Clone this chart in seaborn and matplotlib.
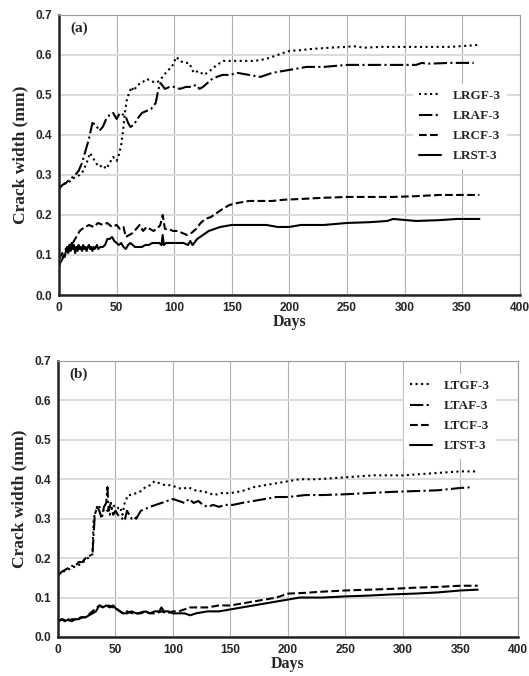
import numpy as np
import matplotlib
matplotlib.use("Agg")
import matplotlib.pyplot as plt
import seaborn as sns

# panel (a)
lrgf_d = [0, 3, 6, 10, 14, 18, 21, 24, 27, 29, 32, 35, 38, 41, 44, 47, 50, 52, 54, 56, 57, 59, 61, 63, 65, 68, 72, 76, 80, 84, 87, 90, 94, 98, 102, 105, 109, 113, 117, 121, 126, 131, 137, 143, 150, 160, 170, 180, 190, 200, 210, 220, 235, 250, 255, 265, 280, 300, 320, 340, 365]
lrgf_v = [0.27, 0.275, 0.28, 0.285, 0.295, 0.30, 0.31, 0.33, 0.355, 0.345, 0.33, 0.32, 0.325, 0.315, 0.33, 0.345, 0.335, 0.35, 0.375, 0.42, 0.45, 0.49, 0.505, 0.52, 0.51, 0.525, 0.53, 0.54, 0.535, 0.53, 0.535, 0.545, 0.56, 0.57, 0.595, 0.585, 0.58, 0.58, 0.555, 0.56, 0.55, 0.56, 0.575, 0.585, 0.585, 0.585, 0.585, 0.59, 0.60, 0.61, 0.612, 0.615, 0.618, 0.62, 0.622, 0.618, 0.62, 0.62, 0.62, 0.62, 0.625]
lraf_d = [0, 3, 6, 10, 14, 17, 20, 23, 26, 29, 32, 35, 38, 41, 44, 47, 50, 53, 56, 58, 60, 62, 65, 68, 72, 76, 80, 84, 86, 88, 92, 96, 100, 105, 110, 115, 119, 122, 125, 129, 133, 137, 142, 148, 155, 165, 175, 185, 195, 205, 215, 230, 250, 270, 290, 310, 315, 320, 340, 360]
lraf_v = [0.265, 0.275, 0.28, 0.29, 0.30, 0.31, 0.33, 0.36, 0.39, 0.43, 0.425, 0.41, 0.42, 0.44, 0.45, 0.455, 0.44, 0.455, 0.45, 0.445, 0.43, 0.42, 0.425, 0.44, 0.455, 0.46, 0.465, 0.48, 0.51, 0.53, 0.515, 0.52, 0.52, 0.515, 0.52, 0.52, 0.525, 0.515, 0.52, 0.53, 0.54, 0.545, 0.55, 0.55, 0.555, 0.55, 0.545, 0.555, 0.56, 0.565, 0.57, 0.57, 0.575, 0.575, 0.575, 0.575, 0.58, 0.578, 0.58, 0.58]
lrcf_d = [0, 2, 4, 6, 8, 10, 12, 14, 16, 18, 20, 23, 26, 30, 34, 38, 42, 46, 50, 53, 56, 58, 61, 64, 67, 70, 73, 76, 79, 82, 85, 88, 90, 92, 95, 99, 103, 107, 111, 115, 119, 123, 127, 132, 137, 142, 148, 155, 165, 175, 185, 195, 210, 230, 250, 270, 290, 310, 330, 350, 365]
lrcf_v = [0.09, 0.10, 0.11, 0.115, 0.12, 0.12, 0.13, 0.14, 0.15, 0.16, 0.165, 0.17, 0.175, 0.17, 0.18, 0.175, 0.18, 0.17, 0.175, 0.165, 0.17, 0.145, 0.15, 0.155, 0.165, 0.175, 0.16, 0.17, 0.165, 0.16, 0.165, 0.175, 0.20, 0.165, 0.165, 0.16, 0.16, 0.155, 0.15, 0.155, 0.165, 0.18, 0.19, 0.195, 0.205, 0.215, 0.225, 0.23, 0.235, 0.235, 0.235, 0.238, 0.24, 0.243, 0.245, 0.245, 0.245, 0.247, 0.25, 0.25, 0.25]
lrst_d = [0, 1, 2, 3, 4, 5, 6, 7, 8, 9, 10, 11, 12, 13, 14, 15, 16, 17, 18, 19, 20, 21, 22, 23, 24, 25, 26, 27, 28, 29, 30, 31, 32, 33, 34, 36, 38, 40, 42, 44, 46, 48, 50, 52, 54, 56, 58, 60, 62, 64, 66, 68, 70, 72, 75, 78, 81, 84, 87, 89, 90, 91, 93, 96, 100, 104, 108, 112, 114, 116, 120, 125, 130, 135, 140, 150, 160, 170, 180, 190, 200, 210, 230, 250, 270, 285, 290, 310, 330, 345, 350, 365]
lrst_v = [0.07, 0.08, 0.085, 0.09, 0.10, 0.095, 0.11, 0.12, 0.105, 0.125, 0.11, 0.13, 0.115, 0.125, 0.105, 0.12, 0.11, 0.125, 0.115, 0.12, 0.11, 0.125, 0.115, 0.12, 0.11, 0.12, 0.125, 0.115, 0.12, 0.11, 0.12, 0.115, 0.12, 0.125, 0.115, 0.12, 0.12, 0.125, 0.14, 0.14, 0.145, 0.135, 0.13, 0.125, 0.13, 0.12, 0.115, 0.125, 0.13, 0.125, 0.12, 0.12, 0.12, 0.12, 0.125, 0.125, 0.13, 0.13, 0.13, 0.125, 0.15, 0.125, 0.13, 0.13, 0.13, 0.13, 0.13, 0.125, 0.135, 0.125, 0.14, 0.15, 0.16, 0.165, 0.17, 0.175, 0.175, 0.175, 0.175, 0.17, 0.17, 0.175, 0.175, 0.18, 0.182, 0.185, 0.19, 0.185, 0.187, 0.19, 0.19, 0.19]

# panel (b)
ltgf_d = [0, 4, 8, 12, 16, 20, 24, 28, 30, 31, 33, 36, 39, 42, 45, 48, 51, 54, 56, 58, 61, 64, 68, 72, 76, 80, 84, 88, 93, 98, 103, 108, 113, 117, 121, 126, 131, 136, 142, 150, 160, 170, 180, 190, 200, 210, 225, 250, 275, 300, 325, 350, 365]
ltgf_v = [0.16, 0.165, 0.17, 0.175, 0.18, 0.185, 0.195, 0.205, 0.21, 0.30, 0.32, 0.33, 0.32, 0.325, 0.31, 0.335, 0.325, 0.33, 0.31, 0.34, 0.36, 0.36, 0.365, 0.37, 0.38, 0.385, 0.395, 0.39, 0.385, 0.385, 0.38, 0.375, 0.38, 0.375, 0.37, 0.37, 0.365, 0.36, 0.365, 0.365, 0.37, 0.38, 0.385, 0.39, 0.395, 0.40, 0.40, 0.405, 0.41, 0.41, 0.415, 0.42, 0.42]
ltaf_d = [0, 3, 6, 9, 12, 15, 18, 21, 24, 27, 30, 31, 32, 34, 36, 38, 40, 42, 43, 44, 46, 48, 50, 52, 54, 56, 58, 60, 62, 64, 66, 68, 72, 76, 80, 85, 90, 95, 100, 105, 110, 114, 118, 122, 126, 130, 135, 140, 145, 152, 160, 170, 180, 190, 200, 215, 230, 250, 270, 290, 310, 330, 350, 360]
ltaf_v = [0.155, 0.165, 0.17, 0.175, 0.18, 0.18, 0.19, 0.19, 0.20, 0.205, 0.21, 0.26, 0.31, 0.33, 0.32, 0.30, 0.33, 0.34, 0.38, 0.32, 0.34, 0.31, 0.32, 0.31, 0.305, 0.30, 0.295, 0.32, 0.31, 0.30, 0.305, 0.30, 0.32, 0.325, 0.33, 0.335, 0.34, 0.345, 0.35, 0.345, 0.34, 0.35, 0.34, 0.345, 0.335, 0.33, 0.335, 0.33, 0.335, 0.335, 0.34, 0.345, 0.35, 0.355, 0.355, 0.36, 0.36, 0.362, 0.365, 0.368, 0.37, 0.372, 0.378, 0.38]
ltcf_d = [0, 4, 8, 12, 16, 20, 24, 28, 32, 36, 40, 44, 48, 52, 56, 60, 65, 70, 75, 80, 85, 90, 95, 100, 105, 110, 115, 120, 130, 140, 150, 160, 170, 180, 190, 200, 215, 230, 250, 270, 290, 310, 330, 350, 365]
ltcf_v = [0.04, 0.045, 0.04, 0.045, 0.045, 0.05, 0.05, 0.06, 0.07, 0.08, 0.075, 0.08, 0.075, 0.07, 0.06, 0.065, 0.06, 0.06, 0.065, 0.06, 0.06, 0.065, 0.06, 0.065, 0.065, 0.07, 0.075, 0.075, 0.075, 0.08, 0.08, 0.085, 0.09, 0.095, 0.10, 0.11, 0.112, 0.115, 0.118, 0.12, 0.122, 0.125, 0.127, 0.13, 0.13]
ltst_d = [0, 3, 6, 9, 12, 15, 18, 21, 24, 27, 30, 33, 36, 39, 42, 45, 48, 51, 54, 57, 60, 64, 68, 72, 76, 80, 84, 88, 90, 92, 96, 100, 105, 110, 115, 120, 130, 140, 150, 160, 170, 180, 190, 200, 210, 230, 250, 270, 290, 310, 330, 350, 365]
ltst_v = [0.04, 0.045, 0.04, 0.045, 0.04, 0.045, 0.045, 0.05, 0.05, 0.055, 0.06, 0.065, 0.08, 0.075, 0.08, 0.075, 0.08, 0.07, 0.065, 0.06, 0.06, 0.065, 0.06, 0.06, 0.065, 0.06, 0.065, 0.065, 0.075, 0.065, 0.065, 0.06, 0.06, 0.06, 0.055, 0.06, 0.065, 0.065, 0.07, 0.075, 0.08, 0.085, 0.09, 0.095, 0.10, 0.10, 0.103, 0.105, 0.108, 0.11, 0.113, 0.118, 0.12]

panels = [
    ("(a)", [("LRGF-3", lrgf_d, lrgf_v, ":"), ("LRAF-3", lraf_d, lraf_v, "-."),
             ("LRCF-3", lrcf_d, lrcf_v, "--"), ("LRST-3", lrst_d, lrst_v, "-")],
     (0.985, 0.775)),
    ("(b)", [("LTGF-3", ltgf_d, ltgf_v, ":"), ("LTAF-3", ltaf_d, ltaf_v, "-."),
             ("LTCF-3", ltcf_d, ltcf_v, "--"), ("LTST-3", ltst_d, ltst_v, "-")],
     (0.965, 0.975)),
]

sns.set_style("white")
serif = "Liberation Serif"
sans = "Liberation Sans"

fig = plt.figure(figsize=(5.29, 6.76), dpi=100)
axes = [fig.add_axes([0.1115, 0.5636, 0.871, 0.4144]),
        fig.add_axes([0.1096, 0.0577, 0.8696, 0.4083])]

for ax, (tag, series, leg_pos) in zip(axes, panels):
    for name, d, v, ls in series:
        sns.lineplot(x=d, y=v, ax=ax, color="black", linestyle=ls, linewidth=1.5,
                     label=name, sort=False, estimator=None)
    ax.set_xlim(0, 400)
    ax.set_ylim(0, 0.7)
    ax.set_xticks(np.arange(0, 401, 50))
    ax.set_yticks(np.arange(0, 0.71, 0.1))
    ax.set_yticklabels([f"{t:.1f}" for t in np.arange(0, 0.71, 0.1)])
    ax.xaxis.grid(True, color="#b0b0b0", linewidth=0.8)
    ax.yaxis.grid(True, color="#dadada", linewidth=1.4)
    ax.set_axisbelow(True)
    for s in ["left", "bottom"]:
        ax.spines[s].set_color("#222222")
        ax.spines[s].set_linewidth(1.8)
    for s in ["top", "right"]:
        ax.spines[s].set_color("#999999")
        ax.spines[s].set_linewidth(0.8)
    ax.tick_params(axis="both", length=0, labelsize=8.6, pad=5)
    for lab in ax.get_xticklabels() + ax.get_yticklabels():
        lab.set_fontweight("bold")
        lab.set_fontfamily(sans)
    ax.set_xlabel("Days", fontfamily=serif, fontweight="bold", fontsize=11.5, labelpad=0)
    ax.set_ylabel("Crack width (mm)", fontfamily=serif, fontweight="bold", fontsize=12.5, labelpad=5)
    ax.text(0.025, 0.975, tag, transform=ax.transAxes, fontfamily=serif,
            fontweight="bold", fontsize=11, va="top", ha="left")
    ax.legend(loc="upper right", bbox_to_anchor=leg_pos, frameon=True,
              fancybox=False, framealpha=1, edgecolor="white",
              prop={"family": serif, "weight": "bold", "size": 9.5},
              handlelength=1.7, handletextpad=0.9, labelspacing=0.6, borderpad=0.4)

fig.savefig("out.png", dpi=100)
